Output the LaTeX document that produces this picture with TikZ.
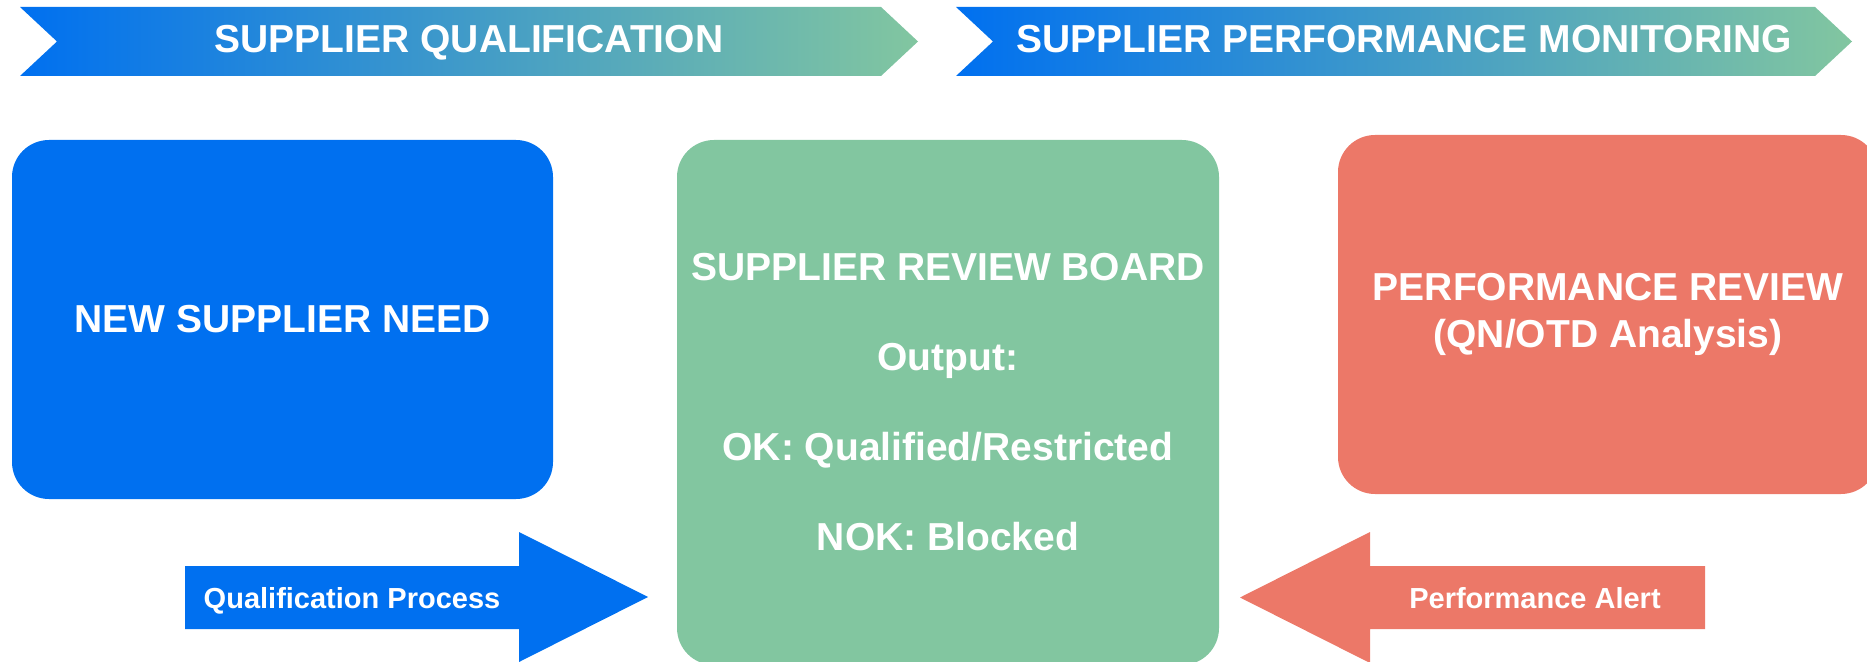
\documentclass[tikz,border=0pt]{standalone}
\usepackage{fontspec}
\setmainfont{Liberation Sans}
\definecolor{sqblue}{RGB}{0,112,240}
\definecolor{sqgreen}{RGB}{130,198,160}
\definecolor{sqred}{RGB}{236,120,104}
\def\notch{37}
\begin{document}
\begin{tikzpicture}[x=0.5pt, y=-0.5pt]
        \tikzstyle{box}    = [rounded corners=18.5pt, inner sep=0pt, text=white, align=center, font=\bfseries\fontsize{19.5}{23.5}\selectfont]
        \tikzstyle{banner} = [anchor=base, text=white, font=\bfseries\fontsize{19.5}{23.5}\selectfont]
        \tikzstyle{arrowtext} = [anchor=base, text=white, font=\bfseries\fontsize{14.5}{17}\selectfont]
                \useasboundingbox (0,0) rectangle (1867,662);

                \foreach \i/\xa/\xb/\txt in {1/20/881/SUPPLIER QUALIFICATION, 2/956/1815/SUPPLIER PERFORMANCE MONITORING}
                {
                        \path [left color=sqblue, right color=sqgreen] (\xa,7) -- (\xb,7) -- ({\xb + \notch},41.5)
                                -- (\xb,76) -- (\xa,76) -- ({\xa + \notch},41.5) -- cycle;
                        \node [banner](t\i) at ({(\xa + \xb + \notch)*0.5}, 53) {\txt};
                }

                \node [box, fill=sqblue, minimum width=270.5pt, minimum height=179.5pt](need) at (282.5, 319.5) {NEW SUPPLIER NEED};
                \node [box, fill=sqgreen, minimum width=271pt, minimum height=262.5pt, font=\bfseries\fontsize{19.5}{45}\selectfont](board) at (948, 402.5)
                        {SUPPLIER REVIEW BOARD\\Output:\\OK: Qualified/Restricted\\NOK: Blocked};
                \node [box, fill=sqred, minimum width=270pt, minimum height=179.5pt](review) at (1608, 314.5) {PERFORMANCE REVIEW\\(QN/OTD Analysis)};

                \fill [sqblue] (185,566) -- (519,566) -- (519,532) -- (648,597) -- (519,662) -- (519,629) -- (185,629) -- cycle;
                \node [arrowtext](qual) at (352, 608) {Qualification Process};
                \fill [sqred] (1705,566) -- (1370,566) -- (1370,532) -- (1240,597.5) -- (1370,663) -- (1370,629) -- (1705,629) -- cycle;
                \node [arrowtext](alert) at (1535, 608) {Performance Alert};
\end{tikzpicture}
\end{document}
